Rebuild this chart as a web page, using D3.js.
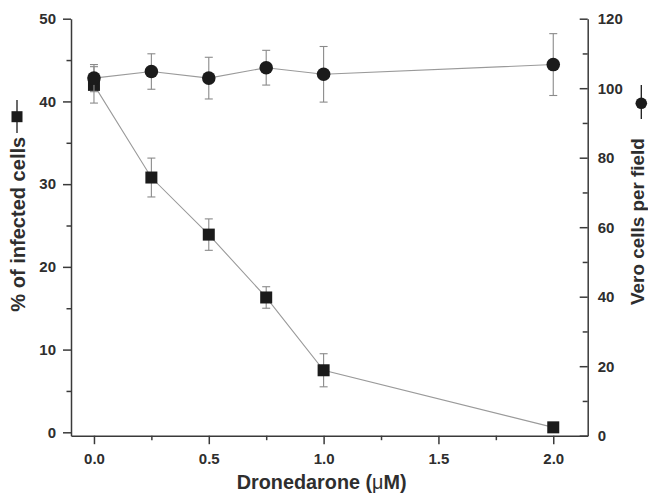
<!DOCTYPE html>
<html>
<head>
<meta charset="utf-8">
<script src="https://cdn.jsdelivr.net/npm/d3@7"></script>
<style>
  html, body { margin: 0; padding: 0; background: #fff; }
  svg { display: block; font-family: "Liberation Sans", Arial, sans-serif; }
</style>
</head>
<body>
<svg id="chart" width="648" height="493"></svg>
<script>
// ---- data ----
const doses = [0.0, 0.25, 0.5, 0.75, 1.0, 2.0];
const infectedPct = [42.0, 30.8, 23.9, 16.3, 7.5, 0.6];
const infectedErr = [2.2, 2.35, 1.9, 1.3, 2.0, 0];
const veroCells = [102.9, 104.8, 102.9, 105.9, 104.0, 106.8];
const veroErr = [3.9, 5.1, 6.0, 5.0, 8.0, 8.9];
const xTicks = [0.0, 0.5, 1.0, 1.5, 2.0];
const xMinorTicks = [0.25, 0.75, 1.25, 1.75];
const leftTicks = [0, 10, 20, 30, 40, 50];
const leftMinorTicks = [5, 15, 25, 35, 45];
const rightTicks = [0, 20, 40, 60, 80, 100, 120];
const rightMinorTicks = [10, 30, 50, 70, 90, 110];

// ---- layout ----
const L = 71, R = 587.7, T = 18.7, B = 435.7;
const svg = d3.select("#chart");
const axisColor = "#3a3a3a", textColor = "#2e2e2e";
const lineColor = "#9a9a9a", errColor = "#8a8a8a", markColor = "#1b1b1b";

const x = d3.scaleLinear().domain([-0.1, 2.15]).range([L, R]);
const yL = d3.scaleLinear().domain([-0.41, 50]).range([B, T]);
const yR = d3.scaleLinear().domain([0, 120]).range([B, T]);

function styleAxis(g) {
  g.selectAll("path.domain").attr("stroke", axisColor).attr("stroke-width", 1.5);
  g.selectAll(".tick line").attr("stroke", axisColor).attr("stroke-width", 1.5);
  g.selectAll(".tick text").attr("fill", textColor)
    .style("font-size", "15px").style("font-weight", "bold")
    .style("font-family", '"Liberation Sans", Arial, sans-serif');
}

// minor ticks
svg.append("g").attr("transform", `translate(0,${B})`)
  .call(d3.axisBottom(x).tickValues(xMinorTicks).tickFormat("").tickSize(4.5).tickSizeOuter(0))
  .call(styleAxis).call(g => g.select("path.domain").remove());
svg.append("g").attr("transform", `translate(${L},0)`)
  .call(d3.axisLeft(yL).tickValues(leftMinorTicks).tickFormat("").tickSize(4.5).tickSizeOuter(0))
  .call(styleAxis).call(g => g.select("path.domain").remove());
svg.append("g").attr("transform", `translate(${R},0)`)
  .call(d3.axisRight(yR).tickValues(rightMinorTicks).tickFormat("").tickSize(-5).tickSizeOuter(0))
  .call(styleAxis).call(g => g.select("path.domain").remove());

// major axes
svg.append("g").attr("transform", `translate(0,${B})`)
  .call(d3.axisBottom(x).tickValues(xTicks).tickFormat(d3.format(".1f")).tickSize(8.5).tickPadding(9).tickSizeOuter(0))
  .call(styleAxis);
svg.append("g").attr("transform", `translate(${L},0)`)
  .call(d3.axisLeft(yL).tickValues(leftTicks).tickFormat(d3.format("d")).tickSize(8).tickPadding(7).tickSizeOuter(0))
  .call(styleAxis);
svg.append("g").attr("transform", `translate(${R},0)`)
  .call(d3.axisRight(yR).tickValues(rightTicks).tickFormat(d3.format("d")).tickSize(-8).tickPadding(10).tickSizeOuter(0))
  .call(styleAxis);

// ---- series ----
const sq = doses.map((d, i) => ({ x: d, y: infectedPct[i], e: infectedErr[i] }));
const ci = doses.map((d, i) => ({ x: d, y: veroCells[i], e: veroErr[i] }));

function drawSeries(data, y, shape) {
  const g = svg.append("g");
  g.append("path").datum(data)
    .attr("d", d3.line().x(d => x(d.x)).y(d => y(d.y)))
    .attr("fill", "none").attr("stroke", lineColor).attr("stroke-width", 1.1);
  const eb = g.selectAll("g.err").data(data.filter(d => d.e > 0)).join("g");
  eb.append("line").attr("x1", d => x(d.x)).attr("x2", d => x(d.x))
    .attr("y1", d => y(d.y - d.e)).attr("y2", d => y(d.y + d.e));
  eb.append("line").attr("x1", d => x(d.x) - 4).attr("x2", d => x(d.x) + 4)
    .attr("y1", d => y(d.y + d.e)).attr("y2", d => y(d.y + d.e));
  eb.append("line").attr("x1", d => x(d.x) - 4).attr("x2", d => x(d.x) + 4)
    .attr("y1", d => y(d.y - d.e)).attr("y2", d => y(d.y - d.e));
  eb.selectAll("line").attr("stroke", errColor).attr("stroke-width", 1.1);
  if (shape === "square") {
    g.selectAll("rect").data(data).join("rect")
      .attr("x", d => x(d.x) - 6).attr("y", d => y(d.y) - 6)
      .attr("width", 12).attr("height", 12).attr("fill", markColor);
  } else {
    g.selectAll("circle").data(data).join("circle")
      .attr("cx", d => x(d.x)).attr("cy", d => y(d.y)).attr("r", 6.8).attr("fill", markColor);
  }
}
drawSeries(sq, yL, "square");
drawSeries(ci, yR, "circle");

// ---- titles ----
// fit font size so each title spans the same length as in the reference
function fitText(t, target) {
  const base = 19;
  t.style("font-size", base + "px");
  const len = t.node().getComputedTextLength();
  if (len > 0) t.style("font-size", (base * target / len) + "px");
}

const xt = svg.append("text")
  .attr("x", 321.7).attr("y", 488.5).attr("text-anchor", "middle")
  .attr("fill", textColor).style("font-weight", "bold")
  .call(t => {
    t.append("tspan").text("Dronedarone (");
    t.append("tspan").style("font-weight", "normal").text("\u03bc");
    t.append("tspan").text("M)");
  });
fitText(xt, 170);

const lt = svg.append("text")
  .attr("transform", "translate(25,311.7) rotate(-90)")
  .attr("fill", textColor).style("font-weight", "bold")
  .text("% of infected cells");
fitText(lt, 175);
// left legend symbol
svg.append("line").attr("x1", 17).attr("x2", 17).attr("y1", 100).attr("y2", 133)
  .attr("stroke", markColor).attr("stroke-width", 1.3);
svg.append("rect").attr("x", 11.5).attr("y", 111.2).attr("width", 11).attr("height", 11).attr("fill", markColor);

const rt = svg.append("text")
  .attr("transform", "translate(644,305) rotate(-90)")
  .attr("fill", textColor).style("font-weight", "bold")
  .text("Vero cells per field");
fitText(rt, 167);
// right legend symbol
svg.append("line").attr("x1", 641.3).attr("x2", 641.3).attr("y1", 85).attr("y2", 119)
  .attr("stroke", markColor).attr("stroke-width", 1.3);
svg.append("circle").attr("cx", 641.3).attr("cy", 103.3).attr("r", 5.8).attr("fill", markColor);
</script>
</body>
</html>
